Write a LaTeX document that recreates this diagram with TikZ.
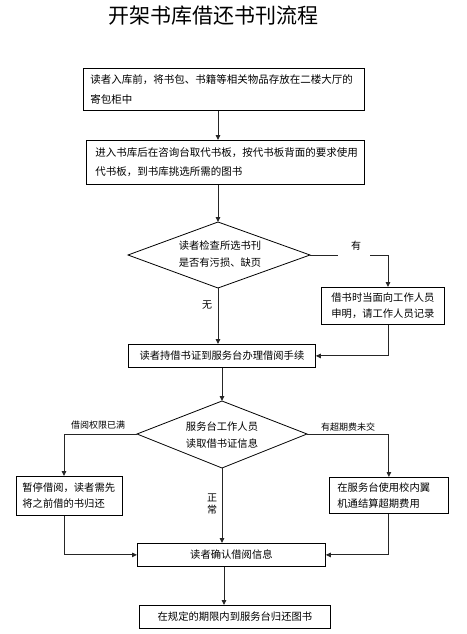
\documentclass[tikz,border=0pt]{standalone}
\usepackage{fontspec}
\setmainfont{Noto Sans CJK SC}
\usetikzlibrary{arrows.meta}
\begin{document}
\begin{tikzpicture}[x=1pt,y=-1pt,
  box/.style={draw=black, line width=0.8pt, inner ysep=0pt, anchor=north west,
    font=\fontsize{10.3pt}{16pt}\selectfont},
  conn/.style={draw=black!85, line width=0.9pt},
  arr/.style={conn, -{Triangle[length=5pt,width=4.5pt]}},
  lab/.style={font=\fontsize{9pt}{12pt}\selectfont, inner sep=0pt},
  dtext/.style={font=\fontsize{10.3pt}{16.5pt}\selectfont, align=center, inner sep=0pt}]
\useasboundingbox (0,0) rectangle (466,634);

% title
\node[font=\fontsize{21pt}{23pt}\selectfont, inner sep=0pt] (title) at (213.5,16) {开架书库借还书刊流程};

% columns
\coordinate (mc) at (218,0);
\coordinate (rc) at (388,0);
\coordinate (lx) at (64,0);
\coordinate (lc) at (222,0);
\coordinate (lc3) at (224,0);

% boxes
\node[box, text width=267pt, inner xsep=7pt, minimum height=42pt, align=left,
  font=\fontsize{10.5pt}{20pt}\selectfont] (b1) at (83,68)
  {读者入库前，将书包、书籍等相关物品存放在二楼大厅的\\寄包柜中};
\node[box, text width=260pt, inner xsep=9pt, minimum height=44pt, align=left,
  font=\fontsize{10.5pt}{19pt}\selectfont] (b2) at (86,140)
  {进入书库后在咨询台取代书板，按代书板背面的要求使用\\代书板，到书库挑选所需的图书};
\node[box, text width=123pt, inner xsep=0pt, minimum height=37pt, align=center] (b3) at (321,287)
  {借书时当面向工作人员\\申明，请工作人员记录};
\node[box, text width=187pt, inner xsep=0pt, minimum height=23pt, align=center] (b4) at (128,344)
  {读者持借书证到服务台办理借阅手续};
\node[box, text width=94pt, inner xsep=6pt, minimum height=39pt, align=left] (b5) at (16,476)
  {暂停借阅，读者需先\\将之前借的书归还};
\node[box, text width=103pt, inner xsep=8pt, minimum height=36pt, align=left] (b6) at (329,477)
  {在服务台使用校内翼\\机通结算超期费用};
\node[box, text width=188pt, inner xsep=0pt, minimum height=23pt, align=center] (b7) at (137,543)
  {读者确认借阅信息};
\node[box, text width=191pt, inner xsep=0pt, minimum height=23pt, align=center] (b8) at (139,605)
  {在规定的期限内到服务台归还图书};

% diamond 1
\coordinate (d1n) at (218,222);
\coordinate (d1e) at (310,255);
\coordinate (d1s) at (218,288);
\coordinate (d1w) at (128,255);
\draw[line width=0.8pt] (d1n) -- (d1e) -- (d1s) -- (d1w) -- cycle;
\node[dtext] (t1) at (220,254) {读者检查所选书刊\\是否有污损、缺页};

% diamond 2
\coordinate (d2n) at (222,401);
\coordinate (d2e) at (307,434);
\coordinate (d2s) at (222,468);
\coordinate (d2w) at (137,434);
\draw[line width=0.8pt] (d2n) -- (d2e) -- (d2s) -- (d2w) -- cycle;
\node[dtext] (t2) at (222,435) {服务台工作人员\\读取借书证信息};

% connectors
\draw[arr] (b1.south -| mc) -- (b2.north -| mc);
\draw[arr] (b2.south -| mc) -- (d1n);

\coordinate (g1) at (338,255);
\coordinate (g2) at (370,255);
\draw[conn] (d1e) -- (g1);
\node[lab, font=\fontsize{10pt}{12pt}\selectfont] (yes) at (356,246) {有};
\draw[arr] (g2) -| (b3.north -| rc);

\draw[arr] (d1s) -- (b4.north -| d1s);
\node[lab, font=\fontsize{10pt}{12pt}\selectfont] (no) at (207,305) {无};

\draw[arr] (b3.south -| rc) |- (b4.east);

\draw[arr] (b4.south -| lc) -- (d2n);

\draw[arr] (d2w) -| (b5.north -| lx);
\node[lab] (full) at (98,425) {借阅权限已满};
\draw[arr] (d2e) -| (b6.north);
\node[lab] (fee) at (348,427) {有超期费未交};

\draw[arr] (d2s) -- (b7.north -| d2s);
\node[lab, align=center, font=\fontsize{10pt}{12pt}\selectfont] (ok) at (212,504) {正\\常};

\draw[arr] (b5.south -| lx) |- (b7.west);
\draw[arr] (b6.south) |- (b7.east);
\draw[arr] (b7.south -| lc3) -- (b8.north -| lc3);
\end{tikzpicture}
\end{document}
